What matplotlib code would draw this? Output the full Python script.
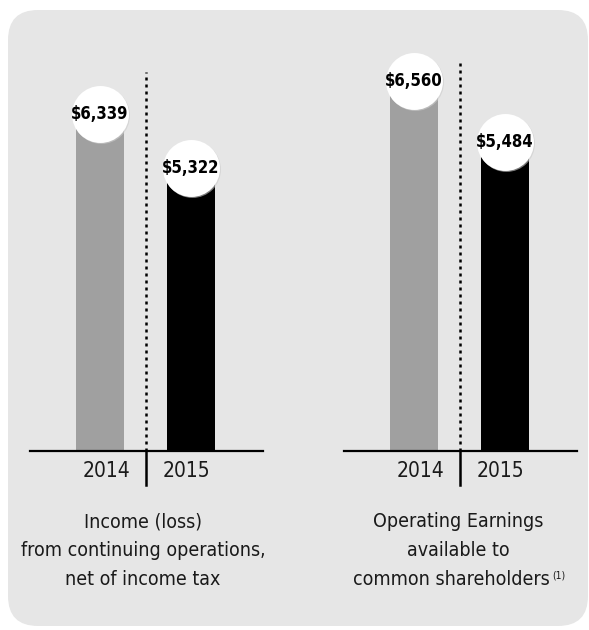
import matplotlib
matplotlib.use("Agg")
import matplotlib.pyplot as plt
from matplotlib import font_manager
from matplotlib.patches import FancyBboxPatch

# pick a narrow face if one is installed
fonts = font_manager.fontManager.ttflist
narrow = [f.name for f in fonts if f.stretch in ("condensed", "semi-condensed")
          or "Narrow" in f.name or "Condensed" in f.name]
fam = narrow[0] if narrow else "Roboto"
plt.rcParams['font.family'] = [fam, 'Roboto', 'DejaVu Sans']
plt.rcParams['font.stretch'] = 'condensed'

years = ["2014", "2015"]
income = [6339, 5322]
operating = [6560, 5484]
labels_income = ["$6,339", "$5,322"]
labels_operating = ["$6,560", "$5,484"]
captions_income = ["Income (loss)", "from continuing operations,", "net of income tax"]
captions_operating = ["Operating Earnings", "available to", "common shareholders"]
footnote = "(1)"
bar_colors = ["#a0a0a0", "#000000"]

W, H = 589, 630
fig = plt.figure(figsize=(W / 100, H / 100), dpi=100)
fig.patch.set_facecolor("white")

# background panel in pixel coords
bg = fig.add_axes([0, 0, 1, 1])
bg.set_xlim(0, W)
bg.set_ylim(H, 0)
bg.axis("off")
bg.add_patch(FancyBboxPatch((38, 40), 520, 556, boxstyle="round,pad=30",
                            fc="#e6e6e6", ec="none"))

base = 451


def panel(left_px, values, labels, ytop, dot_top, caption, cap_x, note=None):
    ax = fig.add_axes([left_px / W, (H - base) / H, 233 / W, (base - 10) / H])
    ax.set_facecolor("none")
    ax.set_xlim(-0.769, 1.791)
    ax.set_ylim(0, ytop)
    for s in ["top", "right", "left"]:
        ax.spines[s].set_visible(False)
    ax.spines["bottom"].set_linewidth(1.6)
    ax.set_xticks([])
    ax.set_yticks([])
    x = [0, 1]
    ax.bar(x, values, width=0.53, color=bar_colors, zorder=2)
    # dotted divider above the axis, solid below
    ax.axvline(0.505, ymin=0, ymax=dot_top, color="black", ls=(0, (1.2, 1.6)), lw=1.8, zorder=1)
    ax.plot([0.505, 0.505], [0, -0.077], transform=ax.get_xaxis_transform(),
            color="black", lw=1.8, clip_on=False)
    for xi, v, lab in zip(x, values, labels):
        ax.plot(xi + 0.012, v - ytop * 0.003, "o", ms=41, mfc="#cccccc", mec="none",
                alpha=0.6, clip_on=False, zorder=3)
        ax.plot(xi, v, "o", ms=41, mfc="white", mec="none", clip_on=False, zorder=4)
        ax.text(xi, v, lab, ha="center", va="center", fontsize=12, fontweight="bold",
                zorder=5)
    for xi, yr in zip([0.07, 0.95], years):
        ax.text(xi, -0.059, yr, transform=ax.get_xaxis_transform(), ha="center",
                va="baseline", fontsize=15, color="#1a1a1a")
    # caption lines, baselines in pixels below the axis line
    cx = (cap_x - left_px) / 91 - 0.769
    for i, (line, yb) in enumerate(zip(caption, [527, 556, 585])):
        xi = cx
        if note and i == 2:
            xi = cx - 7 / 91
        t = ax.text(xi, -(yb - base) / (base - 10), line, transform=ax.get_xaxis_transform(),
                    ha="center", va="baseline", fontsize=14, color="#1a1a1a")
        if note and i == 2:
            ax.annotate(note, xy=(1, 1), xycoords=t, xytext=(2, 0), textcoords="offset points",
                        ha="left", va="top", fontsize=7.5, color="#1a1a1a")


panel(30, income, labels_income, 8289, 0.859, captions_income, 143)
panel(344, operating, labels_operating, 7819, 0.882, captions_operating, 458, footnote)

fig.savefig("out.png", dpi=100, facecolor="white")
